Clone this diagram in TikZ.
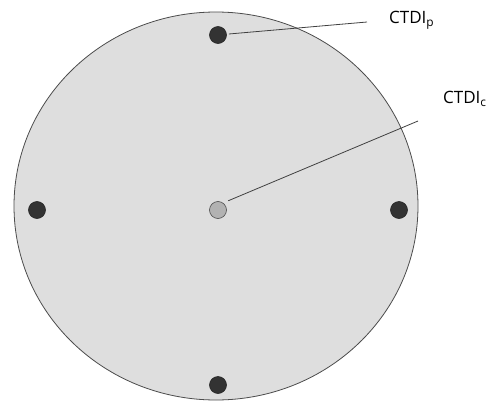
\documentclass[tikz,border=0pt]{standalone}
\usepackage{fontspec}
\setmainfont{Open Sans}
\begin{document}
\begin{tikzpicture}[x=1pt,y=-1pt,
  dark/.style={circle,fill=black!80,draw=black!85,line width=0.6pt,minimum size=17pt,inner sep=0pt},
  light/.style={circle,fill=black!30,draw=black!70,line width=0.6pt,minimum size=17pt,inner sep=0pt},
  lead/.style={draw=black!75,line width=0.8pt},
  lbl/.style={font=\fontsize{17}{20}\selectfont,anchor=west,inner sep=0pt}]
\useasboundingbox (0,0) rectangle (499,402);
\fill[white] (0,0) rectangle (499,402);
\draw[fill=black!13,draw=black!70,line width=0.8pt] (216,206) ellipse [x radius=202, y radius=194];
\node[dark] (top) at (218,35) {};
\node[dark] (bot) at (218,385) {};
\node[dark] (lft) at (37,210) {};
\node[dark] (rgt) at (399,210) {};
\node[light] (ctr) at (218,210) {};
\node[lbl] (lp) at (389,20) {CTDI\textsubscript{p}};
\node[lbl] (lc) at (443,99) {CTDI\textsubscript{c}};
\coordinate (ep) at (367,22);
\coordinate (ec) at (418,121);
\draw[lead] (top.east) ++(2,-1) -- (ep);
\draw[lead] (ctr.north east) ++(4,-3) -- (ec);
\end{tikzpicture}
\end{document}
